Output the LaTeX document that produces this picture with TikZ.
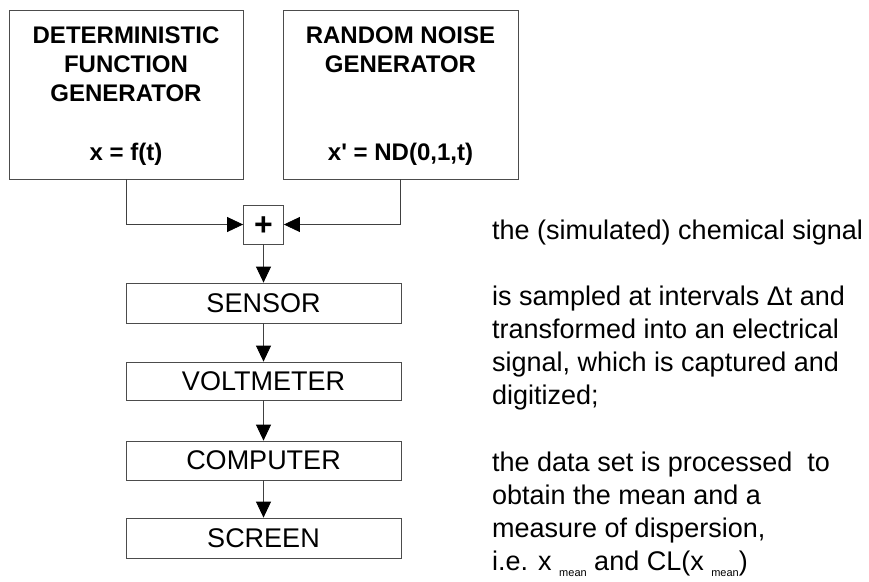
\documentclass[tikz,border=0pt]{standalone}
\usepackage{fontspec}
\setmainfont{Liberation Sans}
\usetikzlibrary{arrows.meta}
\newcommand\sqt{\XeTeXglyph\XeTeXcharglyph"27\relax}
\newcommand\subm{{\fontsize{11}{11}\selectfont\raisebox{-6pt}{mean}}}
\begin{document}
\begin{tikzpicture}[x=1pt,y=-1pt,
  box/.style={draw=black!70,line width=0.8pt,inner sep=0pt},
  conn/.style={draw=black!75,line width=0.8pt},
  arr/.style={conn,-{Triangle[length=16pt,width=15pt,color=black]}},
  btxt/.style={font=\fontsize{24}{29}\selectfont\bfseries,inner sep=0pt,anchor=base},
  ltxt/.style={font=\fontsize{27}{33}\selectfont,inner sep=0pt,anchor=base west},
  rtxt/.style={font=\fontsize{27}{27}\selectfont},
]
\useasboundingbox (0,0) rectangle (869,581);
% generator boxes
\node[box,minimum width=234pt,minimum height=169pt] (det) at (126,94.5) {};
\node[box,minimum width=235pt,minimum height=169pt] (rnd) at (400.5,94.5) {};
\node[btxt] (d1) at (126,43) {DETERMINISTIC};
\node[btxt] (d2) at (126,72) {FUNCTION};
\node[btxt] (d3) at (126,101) {GENERATOR};
\node[btxt] (d4) at (126,160) {x = f(t)};
\node[btxt] (r1) at (400.5,43) {RANDOM NOISE};
\node[btxt] (r2) at (400.5,72) {GENERATOR};
\node[btxt] (r4) at (400.5,160) {x\sqt{} = ND(0,1,t)};
% summing box
\node[box,minimum width=40pt,minimum height=39pt,text height=22.7pt,text depth=0pt,font=\fontsize{32}{32}\selectfont\bfseries] (plus) at (263.5,224.5) {+};
% chain
\node[box,rtxt,minimum width=275pt,minimum height=40pt] (sensor) at (263.5,303) {SENSOR};
\node[box,rtxt,minimum width=275pt,minimum height=38pt] (volt) at (263.5,381) {VOLTMETER};
\node[box,rtxt,minimum width=275pt,minimum height=39pt] (comp) at (263.5,460.5) {COMPUTER};
\node[box,rtxt,minimum width=275pt,minimum height=40pt] (screen) at (263.5,538) {SCREEN};
% connectors
\draw[arr] (det.south) |- (plus.west);
\draw[arr] (rnd.south) |- (plus.east);
\draw[arr] (plus.south) -- (sensor.north);
\draw[arr] (sensor.south) -- (volt.north);
\draw[arr] (volt.south) -- (comp.north);
\draw[arr] (comp.south) -- (screen.north);
% explanatory text
\node[ltxt] (e1) at (492,239) {the (simulated) chemical signal};
\node[ltxt] (e2) at (492,305) {is sampled at intervals Δt and};
\node[ltxt] (e3) at (492,338) {transformed into an electrical};
\node[ltxt] (e4) at (492,371) {signal, which is captured and};
\node[ltxt] (e5) at (492,404) {digitized;};
\node[ltxt] (e6) at (492,471) {the data set is processed\ \ to};
\node[ltxt] (e7) at (492,504) {obtain the mean and a};
\node[ltxt] (e8) at (492,537) {measure of dispersion,};
\node[ltxt] (e9) at (492,570) {i.e. x \subm{} and CL(x \subm)};
\end{tikzpicture}
\end{document}
